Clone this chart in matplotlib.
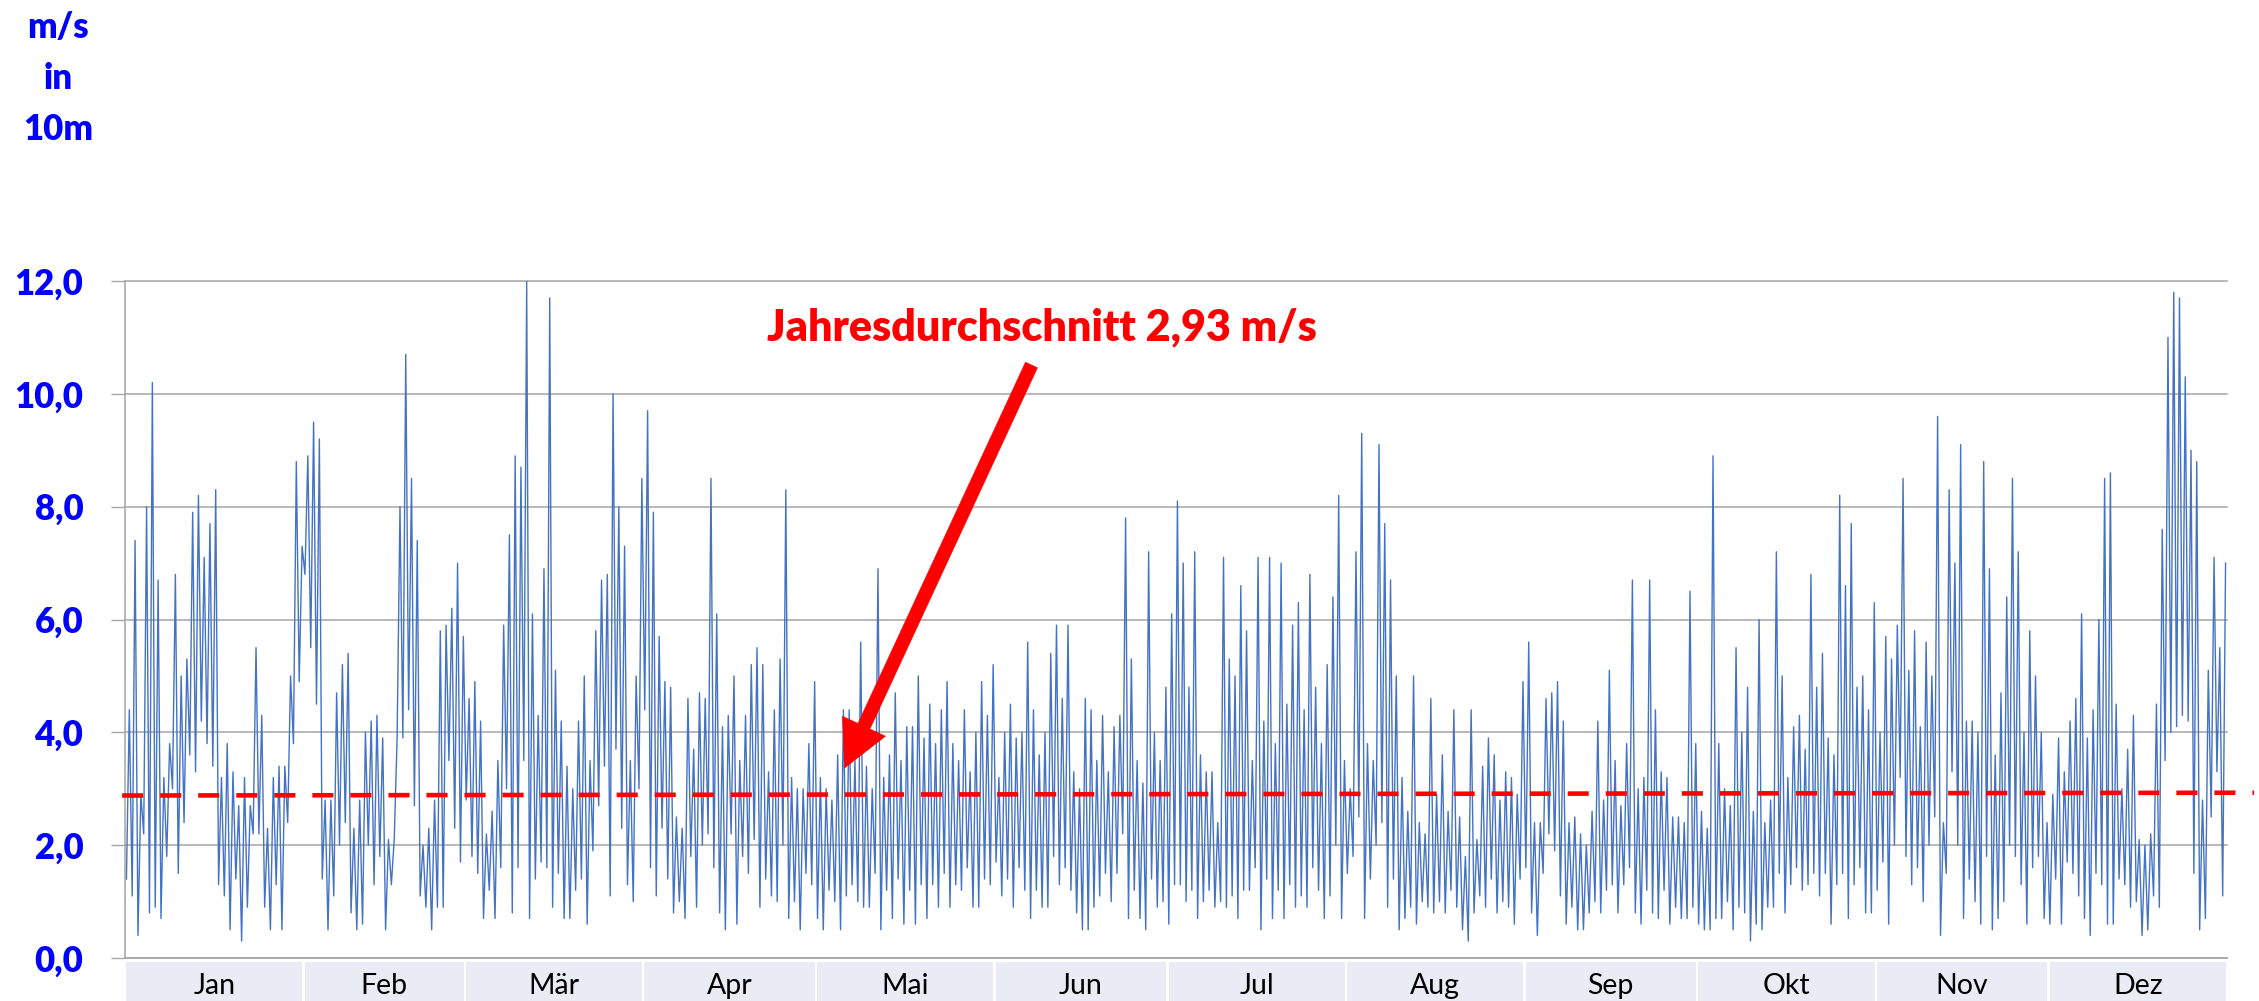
import matplotlib
matplotlib.use("Agg")
import matplotlib.pyplot as plt
import numpy as np
import matplotlib.transforms as mtransforms
from matplotlib.patches import Rectangle

# ---------------- data ----------------
months = ["Jan", "Feb", "Mär", "Apr", "Mai", "Jun", "Jul", "Aug", "Sep", "Okt", "Nov", "Dez"]
month_days = [31, 28, 31, 30, 31, 30, 31, 31, 30, 31, 30, 31]

y_ticks = [0, 2, 4, 6, 8, 10, 12]
y_tick_labels = ["0,0", "2,0", "4,0", "6,0", "8,0", "10,0", "12,0"]

# daily low / high wind speed (m/s in 10 m), day 0 .. 364
day_high = [
    4.4, 7.4, 2.9, 8.0, 10.2, 6.7, 3.2, 3.8, 6.8, 5.0,
    5.3, 7.9, 8.2, 7.1, 7.7, 8.3, 3.2, 3.8, 3.3, 2.7,
    3.2, 2.7, 5.5, 4.3, 2.3, 3.2, 3.4, 3.4, 5.0, 8.8,
    7.3, 8.9, 9.5, 9.2, 2.8, 2.8, 4.7, 5.2, 5.4, 2.3,
    2.8, 4.0, 4.2, 4.3, 3.9, 2.1, 2.1, 8.0, 10.7, 8.5,
    7.4, 2.0, 2.3, 2.8, 5.8, 5.9, 6.2, 7.0, 5.7, 4.6,
    4.9, 4.2, 2.2, 2.6, 3.5, 5.9, 7.5, 8.9, 8.7, 12.0,
    6.1, 4.3, 6.9, 11.7, 5.1, 4.2, 3.4, 3.0, 4.2, 5.0,
    3.5, 5.8, 6.7, 6.8, 10.0, 8.0, 7.3, 3.5, 5.0, 8.5,
    9.7, 7.9, 5.7, 4.9, 4.8, 2.5, 2.3, 4.6, 3.7, 4.7,
    4.6, 8.5, 6.1, 4.1, 4.3, 5.0, 3.5, 4.3, 5.2, 5.5,
    5.2, 3.3, 4.4, 5.3, 8.3, 3.2, 3.0, 3.0, 3.8, 4.9,
    3.2, 3.0, 2.8, 3.6, 4.4, 4.4, 3.5, 5.6, 3.4, 3.0,
    6.9, 3.2, 3.6, 4.7, 3.5, 4.1, 4.1, 5.0, 3.9, 4.5,
    3.8, 4.4, 4.9, 3.8, 3.5, 4.4, 3.3, 4.0, 4.9, 4.3,
    5.2, 3.2, 4.0, 4.5, 3.9, 4.0, 5.6, 4.4, 3.6, 4.0,
    5.4, 5.9, 4.6, 5.9, 3.3, 3.0, 4.6, 4.4, 3.5, 4.3,
    3.3, 4.1, 4.3, 7.8, 5.3, 3.5, 3.1, 7.2, 4.0, 3.5,
    4.8, 6.1, 8.1, 7.0, 4.8, 7.2, 3.6, 3.3, 3.3, 2.4,
    7.1, 5.3, 5.0, 6.6, 5.8, 3.5, 7.1, 4.2, 7.1, 3.8,
    7.0, 4.5, 5.9, 6.3, 4.4, 6.8, 4.8, 3.8, 5.2, 6.4,
    8.2, 3.5, 3.0, 7.2, 9.3, 3.8, 3.5, 9.1, 7.7, 6.7,
    5.0, 3.2, 2.6, 5.0, 2.4, 2.2, 4.6, 2.9, 3.6, 2.6,
    4.4, 2.5, 1.8, 4.4, 2.1, 3.4, 3.9, 3.6, 2.8, 3.3,
    3.2, 2.9, 4.9, 5.6, 2.4, 2.4, 4.6, 4.7, 4.9, 4.2,
    2.4, 2.5, 2.2, 2.0, 2.6, 4.2, 2.8, 5.1, 3.5, 2.7,
    3.8, 6.7, 3.0, 3.2, 6.7, 4.4, 3.3, 3.2, 2.5, 2.5,
    2.4, 6.5, 3.8, 2.6, 2.3, 8.9, 3.8, 3.0, 2.7, 5.5,
    4.0, 4.8, 2.6, 6.0, 2.4, 2.8, 7.2, 5.0, 3.2, 4.1,
    4.3, 3.7, 6.8, 4.8, 5.4, 3.9, 3.6, 8.2, 6.6, 7.7,
    4.8, 5.0, 4.4, 6.3, 4.0, 5.7, 5.3, 5.9, 8.5, 5.1,
    5.8, 4.1, 5.6, 5.0, 9.6, 2.4, 8.3, 7.0, 9.1, 4.2,
    4.2, 4.0, 8.8, 6.9, 3.6, 4.7, 6.4, 8.5, 7.2, 4.0,
    5.8, 5.0, 4.0, 2.4, 2.9, 3.9, 3.3, 4.2, 4.6, 6.1,
    3.9, 4.4, 6.0, 8.5, 8.6, 4.5, 3.0, 3.7, 4.3, 2.1,
    2.0, 2.2, 4.5, 7.6, 11.0, 11.8, 11.7, 10.3, 9.0, 8.8,
    2.8, 5.1, 7.1, 5.5, 7.0,
]
day_low = [
    1.4, 1.1, 0.4, 2.2, 0.8, 0.9, 0.7, 1.8, 3.0, 1.5,
    2.4, 3.6, 3.3, 4.2, 3.8, 3.4, 1.3, 1.1, 0.5, 1.4,
    0.3, 0.9, 2.2, 2.2, 0.9, 0.5, 1.3, 0.5, 2.4, 3.8,
    4.9, 6.8, 5.5, 4.5, 1.4, 0.5, 1.1, 2.0, 2.4, 0.8,
    0.5, 0.6, 2.0, 1.3, 1.8, 0.5, 1.3, 3.9, 3.9, 4.4,
    2.7, 1.1, 0.9, 0.5, 0.9, 0.9, 3.5, 2.3, 1.7, 2.8,
    1.8, 1.5, 0.7, 1.2, 0.7, 1.6, 3.0, 0.8, 1.6, 3.5,
    0.7, 1.4, 1.7, 1.6, 0.9, 1.5, 0.7, 0.7, 1.2, 1.4,
    0.6, 1.9, 2.7, 3.4, 1.1, 3.7, 2.3, 1.3, 1.0, 3.0,
    4.4, 1.6, 1.1, 2.3, 1.4, 0.8, 1.0, 0.7, 1.8, 0.9,
    2.0, 2.2, 1.6, 0.8, 0.5, 2.2, 0.6, 1.8, 1.5, 2.1,
    0.9, 1.4, 1.1, 1.0, 2.0, 0.7, 1.0, 0.5, 1.5, 1.3,
    0.7, 0.5, 1.2, 1.0, 0.5, 1.1, 1.3, 1.0, 0.9, 0.9,
    1.5, 0.5, 1.2, 0.7, 1.4, 0.6, 1.2, 0.6, 1.3, 0.7,
    1.3, 0.9, 1.5, 0.9, 1.3, 1.2, 1.6, 0.9, 0.9, 1.4,
    1.3, 1.7, 1.1, 1.4, 0.9, 1.6, 1.2, 0.7, 1.2, 0.9,
    0.9, 1.8, 1.3, 1.6, 1.2, 0.8, 0.5, 0.5, 0.9, 1.1,
    1.5, 1.0, 1.5, 2.2, 0.7, 1.2, 0.7, 0.5, 1.4, 0.9,
    1.0, 0.6, 1.3, 1.3, 1.0, 1.2, 0.7, 1.0, 1.2, 0.9,
    1.0, 0.9, 1.1, 0.7, 1.2, 1.2, 1.6, 0.5, 1.4, 0.7,
    1.2, 0.7, 1.3, 0.9, 1.1, 0.9, 1.6, 1.2, 0.7, 1.1,
    2.0, 0.7, 1.5, 1.8, 2.5, 0.7, 1.4, 2.0, 2.4, 0.9,
    1.4, 0.5, 0.7, 0.9, 0.6, 1.0, 0.9, 0.8, 1.0, 0.8,
    1.2, 0.9, 0.5, 0.3, 0.8, 1.1, 0.9, 1.4, 0.8, 1.0,
    0.9, 0.6, 1.4, 1.6, 0.8, 0.4, 1.5, 2.2, 1.9, 1.1,
    0.6, 0.9, 0.5, 0.5, 0.8, 1.0, 0.8, 1.2, 1.3, 0.8,
    1.3, 1.6, 0.8, 0.6, 1.2, 0.8, 0.7, 1.2, 0.6, 0.9,
    0.7, 0.7, 0.9, 0.6, 0.5, 0.5, 0.7, 0.7, 1.0, 0.5,
    0.9, 0.8, 0.3, 0.6, 0.5, 0.9, 0.9, 1.5, 0.8, 1.3,
    1.6, 1.2, 1.3, 1.5, 1.1, 1.5, 0.6, 1.3, 1.5, 0.7,
    1.3, 1.6, 0.8, 0.8, 1.2, 1.7, 0.6, 2.0, 3.2, 1.8,
    1.3, 1.6, 1.0, 2.0, 2.5, 0.4, 1.5, 3.3, 2.0, 0.7,
    1.4, 1.0, 0.6, 1.8, 0.5, 0.7, 1.0, 2.0, 1.8, 1.3,
    0.6, 1.6, 1.8, 0.7, 0.6, 1.4, 0.6, 1.7, 1.5, 1.1,
    0.7, 0.4, 1.5, 1.3, 0.6, 0.6, 1.4, 1.3, 0.9, 1.0,
    0.4, 0.5, 1.1, 0.9, 3.5, 4.0, 4.1, 4.3, 4.2, 1.5,
    0.5, 0.7, 2.5, 3.3, 1.1,
]

# linear trend of the annual mean (dashed red line), start / end value
trend_start = 2.88
trend_end = 2.93

title_text = "Jahresdurchschnitt 2,93 m/s"
unit_lines = ["m/s", "in", "10m"]

# ---------------- figure ----------------
W, H = 2259, 1001
fig = plt.figure(figsize=(W / 100, H / 100), dpi=100)
fig.patch.set_facecolor("white")

ax_left, ax_right, ax_top, ax_bottom = 125, 2227, 281, 958
ax = fig.add_axes([ax_left / W, (H - ax_bottom) / H,
                   (ax_right - ax_left) / W, (ax_bottom - ax_top) / H])

grid_col = "#A6A6A6"
blue_line = "#4472C4"
label_blue = "#0000FF"
fam = ["Lato", "DejaVu Sans"]

days = np.arange(len(day_high))
xs = np.column_stack([days + 0.25, days + 0.75]).ravel()
ys = np.column_stack([np.array(day_low), np.array(day_high)]).ravel()
ax.plot(xs, ys, color=blue_line, lw=1.0, zorder=3)

ax.set_xlim(0, 365)
ax.set_ylim(0, 12)

ax.set_yticks(y_ticks)
ax.set_yticklabels(y_tick_labels)
for t in ax.get_yticklabels():
    t.set_fontfamily(fam)
    t.set_fontweight("heavy")
    t.set_fontsize(25)
    t.set_color(label_blue)
ax.tick_params(axis="y", direction="out", length=10, width=1.0,
               color=grid_col, pad=20)
ax.set_xticks([])

ax.grid(axis="y", color=grid_col, lw=1.1, zorder=1)
for gl in ax.get_ygridlines():
    gl.set_clip_on(False)
for s in ["top", "right"]:
    ax.spines[s].set_visible(False)
for s in ["left", "bottom"]:
    ax.spines[s].set_color(grid_col)
    ax.spines[s].set_linewidth(1.1)

# trend / mean dashed line (extends slightly beyond plot like the original)
ax.plot([-0.5, 369.7], [trend_start, trend_end], color="#FF0000", lw=3.3,
        dashes=(4.6, 3.7), clip_on=False, zorder=4)

# month band under the axis
blend = mtransforms.blended_transform_factory(ax.transData, ax.transAxes)
start = 0
for name, nd in zip(months, month_days):
    ax.add_patch(Rectangle((start + 0.2, -0.075), nd - 0.4, 0.069,
                           transform=blend, facecolor="#E9EBF5",
                           edgecolor="none", clip_on=False, zorder=0))
    ax.text(start + nd / 2, -0.0532, name, transform=blend, ha="center",
            va="baseline", fontsize=20.5, family=fam, color="black")
    start += nd

# arrow pointing to the mean line
ax.annotate("", xy=(124.96, 3.37), xytext=(157.4, 10.51),
            arrowprops=dict(arrowstyle="simple,head_length=3.3,head_width=3.4,tail_width=0.94",
                            fc="#FF0000", ec="#FF0000", lw=0.5,
                            shrinkA=0, shrinkB=0, mutation_scale=10),
            zorder=5)

fig.text(1042 / W, 1 - 340 / H, title_text, ha="center", va="baseline",
         fontsize=31, fontweight="heavy", color="#FF0000", family=fam)

for txt, yb in zip(unit_lines, [38, 89, 140]):
    fig.text(58 / W, 1 - yb / H, txt, ha="center", va="baseline",
             fontsize=25, fontweight="heavy", color=label_blue, family=fam)

fig.savefig("out.png", dpi=100, facecolor="white")
